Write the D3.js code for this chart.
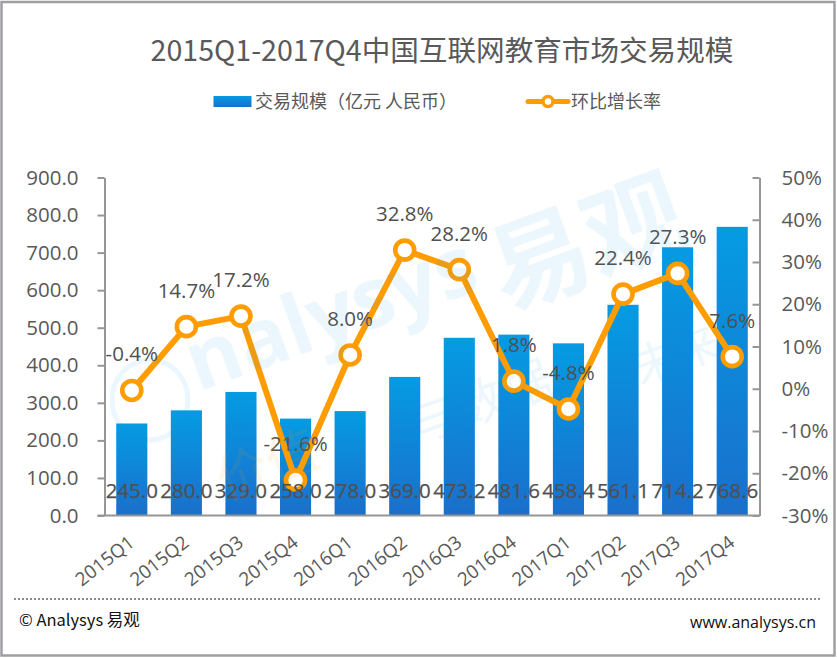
<!DOCTYPE html>
<html><head><meta charset="utf-8">
<script src="https://cdnjs.cloudflare.com/ajax/libs/d3/7.8.5/d3.min.js"></script>
<style>html,body{margin:0;padding:0;background:#fff}svg{display:block}
text{font-family:"Noto Sans CJK SC","Open Sans",sans-serif}</style></head><body>
<svg id="c" width="837" height="658"></svg>
<script>
const categories=["2015Q1","2015Q2","2015Q3","2015Q4","2016Q1","2016Q2","2016Q3","2016Q4","2017Q1","2017Q2","2017Q3","2017Q4"];
const volume=[245.0,280.0,329.0,258.0,278.0,369.0,473.2,481.6,458.4,561.1,714.2,768.6];
const growth=[-0.4,14.7,17.2,-21.6,8.0,32.8,28.2,1.8,-4.8,22.4,27.3,7.6];
const leftTicks=[0,100,200,300,400,500,600,700,800,900];
const rightTicks=[-30,-20,-10,0,10,20,30,40,50];
const titleText="2015Q1-2017Q4中国互联网教育市场交易规模";
const seriesNames=["交易规模（亿元 人民币）","环比增长率"];

const svg=d3.select("#c");
const gray="#595959",axisC="#969696",orange="#FF9C00";
const L=104.5,R=759.5,T=177.5,B=515.5;
const x=d3.scaleBand().domain(categories).range([L,R]).paddingInner(0.43).paddingOuter(0.215);
const y=d3.scaleLinear().domain([0,900]).range([B,T]);
const y2=d3.scaleLinear().domain([-30,50]).range([B,T]);
const cx=d=>x(d)+x.bandwidth()/2;

const grad=svg.append("defs").append("linearGradient").attr("id","g").attr("x1",0).attr("y1",0).attr("x2",0).attr("y2",1);
grad.append("stop").attr("offset","0%").attr("stop-color","#059BE3");
grad.append("stop").attr("offset","100%").attr("stop-color","#1A6FCB");

svg.append("rect").attr("x",1.5).attr("y",2).attr("width",833).attr("height",653.5).attr("fill","#fff").attr("stroke","#A0A0A4").attr("stroke-width",2.5);

// title + legend
svg.append("text").attr("x",442).attr("y",61).attr("text-anchor","middle").attr("font-size",28.6).attr("fill",gray).text(titleText);
svg.append("rect").attr("x",213.5).attr("y",96).attr("width",38).attr("height",11).attr("fill","url(#g)");
svg.append("text").attr("x",255).attr("y",108).attr("font-size",18).attr("fill",gray).text(seriesNames[0]);
svg.append("line").attr("x1",528).attr("x2",568).attr("y1",101.5).attr("y2",101.5).attr("stroke",orange).attr("stroke-width",5).attr("stroke-linecap","round");
svg.append("circle").attr("cx",548).attr("cy",101.5).attr("r",5).attr("fill","#fff").attr("stroke",orange).attr("stroke-width",3.5);
svg.append("text").attr("x",571).attr("y",108).attr("font-size",18).attr("fill",gray).text(seriesNames[1]);

// bars
svg.selectAll("rect.b").data(categories).join("rect").attr("class","b")
 .attr("x",d=>x(d)).attr("width",x.bandwidth())
 .attr("y",(d,i)=>y(volume[i])).attr("height",(d,i)=>B-y(volume[i])).attr("fill","url(#g)");

// axes
const styleAxis=g=>{g.selectAll("path,line").attr("stroke",axisC).attr("stroke-width",2);
 g.selectAll("text").attr("fill",gray).attr("font-size",20.5).style("font-family","'Open Sans',sans-serif");};
svg.append("g").attr("transform",`translate(${L},0)`)
 .call(d3.axisLeft(y).tickValues(leftTicks).tickFormat(d3.format(".1f")).tickSize(7).tickSizeOuter(0).tickPadding(19)).call(styleAxis);
svg.append("g").attr("transform",`translate(${R},0)`)
 .call(d3.axisRight(y2).tickValues(rightTicks).tickFormat(d=>d+"%").tickSize(-7).tickSizeOuter(0).tickPadding(22)).call(styleAxis);
const ax=svg.append("g").attr("transform",`translate(0,${B})`)
 .call(d3.axisBottom(x).tickSize(0).tickSizeOuter(0)).call(styleAxis);
ax.select("path").attr("d",`M${L-7},0H${R}`);
ax.selectAll("text").attr("font-size",18.8).attr("text-anchor","end").attr("dy",0)
 .attr("transform","translate(2,27) rotate(-38)");

// line
const line=d3.line().x(d=>cx(d)).y((d,i)=>y2(growth[i]));
svg.append("path").attr("d",line(categories)).attr("fill","none").attr("stroke",orange).attr("stroke-width",6).attr("stroke-linejoin","round");
svg.selectAll("circle.p").data(categories).join("circle").attr("class","p")
 .attr("cx",cx).attr("cy",(d,i)=>y2(growth[i])).attr("r",9.5).attr("fill","#fff").attr("stroke",orange).attr("stroke-width",4.6);

// labels
const lf="'Open Sans',sans-serif";
svg.selectAll("text.v").data(categories).join("text").attr("class","v")
 .attr("x",cx).attr("y",498).attr("text-anchor","middle").attr("font-size",20.5).style("font-family",lf).attr("fill","#505050").attr("stroke","#505050").attr("stroke-width",0.25)
 .text((d,i)=>d3.format(".1f")(volume[i]));
svg.selectAll("text.g").data(categories).join("text").attr("class","g")
 .attr("x",cx).attr("y",(d,i)=>y2(growth[i])-29).attr("text-anchor","middle").attr("font-size",20.5).style("font-family",lf).attr("fill","#505050")
 .text((d,i)=>growth[i].toFixed(1)+"%");

// watermark on top, translucent
const wm=svg.append("g").attr("opacity",0.09).attr("fill","#1E9BE6").attr("pointer-events","none");
wm.append("text").attr("font-size",82).attr("font-weight",700).attr("transform","translate(198,392) rotate(-20)").style("font-family","'Open Sans',sans-serif").text("nalysys");
wm.append("text").attr("font-size",100).attr("font-weight",700).attr("transform","translate(505,310) rotate(-20)").text("易观");
wm.append("ellipse").attr("cx",150).attr("cy",400).attr("rx",38).attr("ry",40).attr("fill","none").attr("stroke","#1E9BE6").attr("stroke-width",5);
wm.append("text").attr("font-size",50).attr("transform","translate(415,445) rotate(-20)").text("与数据");
wm.append("text").attr("font-size",44).attr("transform","translate(640,385) rotate(-20)").text("未来");
svg.append("text").attr("font-size",52).attr("fill","#FF9C00").attr("opacity",0.09).attr("transform","translate(225,500) rotate(-20)").text("价值");

// footer
svg.append("line").attr("x1",14).attr("x2",820).attr("y1",599).attr("y2",599).attr("stroke","#8c8c8c").attr("stroke-width",2).attr("stroke-dasharray","2 2");
svg.append("text").attr("x",19).attr("y",626).attr("font-size",16.5).attr("fill","#111").text("© Analysys 易观");
svg.append("text").attr("x",816).attr("y",628).attr("text-anchor","end").attr("font-size",16).style("font-family",lf).attr("fill","#111").text("www.analysys.cn");
</script></body></html>
